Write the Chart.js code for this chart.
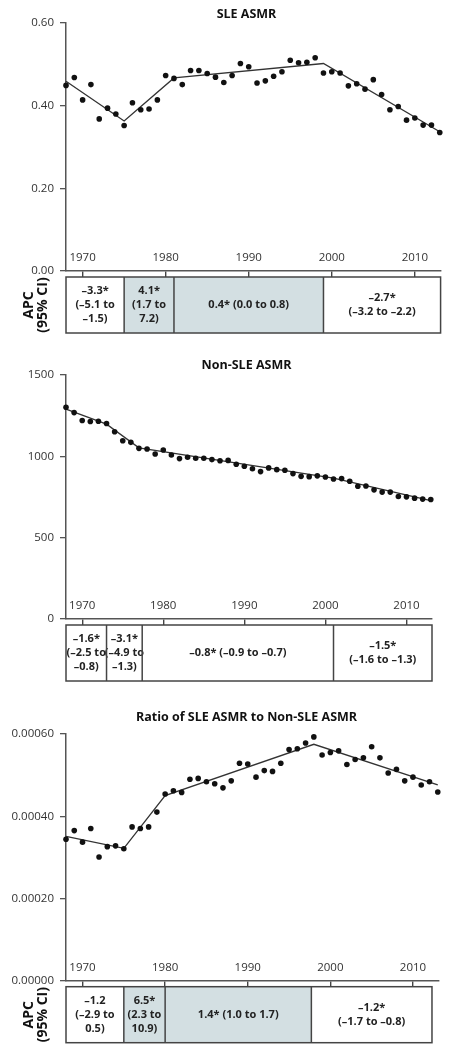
<!DOCTYPE html>
<html><head><meta charset="utf-8">
<script src="https://cdn.jsdelivr.net/npm/chart.js@4.4.0/dist/chart.umd.min.js"></script>
<style>
html,body{margin:0;padding:0;background:#fff;width:455px;height:1050px;overflow:hidden;}
canvas{position:absolute;left:0;}
</style></head><body>
<canvas id="c1" width="455" height="345" style="top:0px"></canvas>
<canvas id="c2" width="455" height="350" style="top:345px"></canvas>
<canvas id="c3" width="455" height="355" style="top:695px"></canvas>
<script>
// ---------- DATA ----------
const years = [1968,1969,1970,1971,1972,1973,1974,1975,1976,1977,
  1978,1979,1980,1981,1982,1983,1984,1985,1986,1987,
  1988,1989,1990,1991,1992,1993,1994,1995,1996,1997,
  1998,1999,2000,2001,2002,2003,2004,2005,2006,2007,
  2008,2009,2010,2011,2012,2013];

const sleAsmr = [0.449,0.468,0.414,0.451,0.368,0.394,0.380,0.352,0.407,0.390,
  0.392,0.414,0.473,0.466,0.451,0.485,0.485,0.478,0.469,0.456,
  0.473,0.502,0.494,0.455,0.460,0.471,0.482,0.510,0.504,0.505,
  0.516,0.479,0.482,0.479,0.448,0.453,0.440,0.463,0.427,0.390,
  0.398,0.365,0.370,0.353,0.353,0.335];

const nonSleAsmr = [1302,1269,1220,1214,1216,1202,1151,1096,1086,1049,
  1045,1014,1039,1008,986,994,988,988,980,973,
  975,951,939,924,906,929,918,914,894,877,
  875,880,873,861,863,847,816,818,794,780,
  780,753,751,743,737,735];

const ratioAsmr = [0.000344,0.000365,0.000337,0.000370,0.000301,0.000326,0.000328,0.000321,0.000374,0.000370,
  0.000374,0.000410,0.000454,0.000462,0.000458,0.000490,0.000492,0.000484,0.000479,0.000469,
  0.000486,0.000529,0.000527,0.000495,0.000511,0.000509,0.000529,0.000562,0.000564,0.000578,
  0.000593,0.000549,0.000555,0.000559,0.000526,0.000538,0.000542,0.000569,0.000542,0.000505,
  0.000514,0.000486,0.000495,0.000476,0.000484,0.000459];

// joinpoint fitted segments
const sleJoinYears = [1968,1975,1981,1999,2013];
const sleJoinFit = [0.459,0.363,0.467,0.502,0.337];
const nonSleJoinYears = [1968,1973,1977,2001,2013];
const nonSleJoinFit = [1290,1198,1052,866,727];
const ratioJoinYears = [1968,1975,1980,1998,2013];
const ratioJoinFit = [0.000351,0.000322,0.000450,0.000575,0.000476];

// APC segments
const sleApcBounds = [1968,1975,1981,1999,2013.1];
const sleApcShaded = [false,true,true,false];
const sleApcLabels = [["–3.3*","(–5.1 to","–1.5)"],["4.1*","(1.7 to","7.2)"],["0.4* (0.0 to 0.8)"],["–2.7*","(–3.2 to –2.2)"]];
const nonSleApcBounds = [1968,1973,1977.4,2001,2013.15];
const nonSleApcShaded = [false,false,false,false];
const nonSleApcLabels = [["–1.6*","(–2.5 to","–0.8)"],["–3.1*","(–4.9 to","–1.3)"],["–0.8* (–0.9 to –0.7)"],["–1.5*","(–1.6 to –1.3)"]];
const ratioApcBounds = [1968,1975,1980,1997.7,2012.3];
const ratioApcShaded = [false,true,true,false];
const ratioApcLabels = [["–1.2","(–2.9 to","0.5)"],["6.5*","(2.3 to","10.9)"],["1.4* (1.0 to 1.7)"],["–1.2*","(–1.7 to –0.8)"]];

// ticks
const xTickYears = [1970,1980,1990,2000,2010];
const sleYTicks = [0,0.2,0.4,0.6];
const nonSleYTicks = [0,500,1000,1500];
const ratioYTicks = [0,0.0002,0.0004,0.0006];

const titles = ["SLE ASMR","Non-SLE ASMR","Ratio of SLE ASMR to Non-SLE ASMR"];

// ---------- DRAWING ----------
const FAM = "'Open Sans','Liberation Sans',sans-serif";
const AXIS = '#555';

function makePanel(id, cfg) {
  const canvas = document.getElementById(id);
  const H = canvas.height;
  const apcPlugin = {
    id: 'apcBox',
    afterDraw(chart) {
      const ctx = chart.ctx, ca = chart.chartArea, xs = chart.scales.x;
      const top = ca.bottom + 6, h = 56;
      const px = cfg.apcBounds.map(v => xs.getPixelForValue(v));
      ctx.save();
      for (let i = 0; i < px.length - 1; i++) {
        if (cfg.apcShaded[i]) { ctx.fillStyle = '#d3dfe2'; ctx.fillRect(px[i], top, px[i+1]-px[i], h); }
      }
      ctx.fillStyle = '#222';
      ctx.font = 'bold 11px ' + FAM;
      ctx.textAlign = 'center'; ctx.textBaseline = 'middle';
      for (let i = 0; i < px.length - 1; i++) {
        const lines = cfg.apcLabels[i], lh = 14;
        const cx = (px[i] + px[i+1]) / 2;
        const y0 = top + h/2 - (lines.length - 1) * lh / 2;
        lines.forEach((t, k) => ctx.fillText(t, cx, y0 + k*lh));
      }
      ctx.strokeStyle = '#444'; ctx.lineWidth = 1.5;
      ctx.strokeRect(px[0], top, px[px.length-1]-px[0], h);
      for (let i = 1; i < px.length - 1; i++) {
        ctx.beginPath(); ctx.moveTo(px[i], top); ctx.lineTo(px[i], top + h); ctx.stroke();
      }
      // title
      ctx.fillStyle = '#111';
      ctx.font = 'bold 12.5px ' + FAM;
      ctx.fillText(cfg.title, 246.5, cfg.titleY);
      if (cfg.apcAxisLabel) {
        ctx.save();
        ctx.translate(36, top + h/2);
        ctx.rotate(-Math.PI/2);
        ctx.font = 'bold 14px ' + FAM;
        ctx.fillText('APC', 0, -7.25);
        ctx.fillText('(95% CI)', 0, 7.25);
        ctx.restore();
      }
      ctx.restore();
    }
  };
  return new Chart(canvas.getContext('2d'), {
    type: 'scatter',
    data: {
      datasets: [
        { data: years.map((y, i) => ({x: y, y: cfg.values[i]})), pointRadius: 2.8, pointBackgroundColor: '#111',
          pointBorderWidth: 0, showLine: false, order: 0, clip: false },
        { type: 'line', data: cfg.fitYears.map((y, i) => ({x: y, y: cfg.fit[i]})), borderColor: '#333',
          borderWidth: 1.3, pointRadius: 0, tension: 0, fill: false, order: 1, clip: false }
      ]
    },
    options: {
      responsive: false, animation: false, devicePixelRatio: 1, events: [],
      layout: { padding: { top: cfg.chartTop, right: 455 - cfg.chartRight, bottom: 0, left: 0 } },
      plugins: { legend: { display: false }, tooltip: { enabled: false }, title: { display: false } },
      scales: {
        x: {
          type: 'linear', min: 1968, max: 2013.15,
          afterBuildTicks: s => { s.ticks = xTickYears.map(v => ({value: v})); },
          afterFit: s => { s.height = H - cfg.chartBottom; },
          grid: { drawOnChartArea: false, drawTicks: true, tickLength: 6, color: '#444', lineWidth: 1.4 },
          border: { display: true, color: AXIS, width: 1.5 },
          ticks: { mirror: true, padding: 6.5, font: { family: FAM, size: 11.5 }, color: '#333', maxRotation: 0, autoSkip: false,
                   callback: v => String(v) }
        },
        y: {
          type: 'linear', min: cfg.yTicks[0], max: cfg.yTicks[cfg.yTicks.length-1],
          afterBuildTicks: s => { s.ticks = cfg.yTicks.map(v => ({value: v})); },
          afterFit: s => { s.width = 66; },
          grid: { drawOnChartArea: false, drawTicks: true, tickLength: 6, color: AXIS, lineWidth: 1.3 },
          border: { display: true, color: AXIS, width: 1.5 },
          ticks: { padding: 6, font: { family: FAM, size: 11.5 }, color: '#333',
                   callback: v => Number(v).toFixed(cfg.dec) }
        }
      }
    },
    plugins: [apcPlugin]
  });
}

makePanel('c1', { values: sleAsmr, fitYears: sleJoinYears, fit: sleJoinFit, yTicks: sleYTicks, dec: 2,
  apcBounds: sleApcBounds, apcShaded: sleApcShaded, apcLabels: sleApcLabels, apcAxisLabel: true,
  title: titles[0], titleY: 14.5, chartTop: 23, chartBottom: 271, chartRight: 441 });
makePanel('c2', { values: nonSleAsmr, fitYears: nonSleJoinYears, fit: nonSleJoinFit, yTicks: nonSleYTicks, dec: 0,
  apcBounds: nonSleApcBounds, apcShaded: nonSleApcShaded, apcLabels: nonSleApcLabels, apcAxisLabel: false,
  title: titles[1], titleY: 20, chartTop: 30, chartBottom: 274, chartRight: 432 });
makePanel('c3', { values: ratioAsmr, fitYears: ratioJoinYears, fit: ratioJoinFit, yTicks: ratioYTicks, dec: 5,
  apcBounds: ratioApcBounds, apcShaded: ratioApcShaded, apcLabels: ratioApcLabels, apcAxisLabel: true,
  title: titles[2], titleY: 22.5, chartTop: 39, chartBottom: 285.7, chartRight: 439 });
</script>
</body></html>
